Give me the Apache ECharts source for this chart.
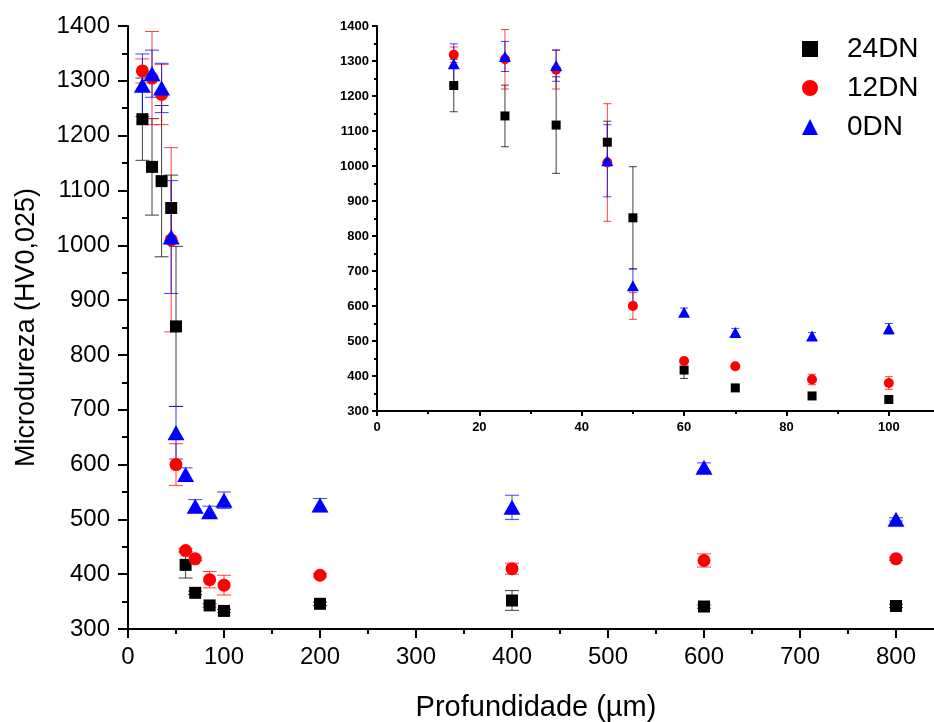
<!DOCTYPE html>
<html>
<head>
<meta charset="utf-8">
<script src="https://cdn.jsdelivr.net/npm/echarts@6/dist/echarts.min.js"></script>
<style>
  html, body { margin: 0; padding: 0; background: #fff; }
  #chart { width: 934px; height: 722px; }
</style>
</head>
<body>
<div id="chart"></div>
<script>
// profundidade (um) and microdureza per sample, with error bar half-widths
var depth = [15, 25, 35, 45, 50, 60, 70, 85, 100, 200, 400, 600, 800];
var hv24 = [1230, 1143, 1117, 1068, 852, 417, 366, 343, 333, 346, 352, 341, 342];
var err24 = [75, 88, 138, 60, 146, 24, 3, 3, 3, 3, 18, 3, 3];
var hv12 = [1318, 1305, 1275, 1010, 600, 443, 428, 390, 380, 398, 410, 425, 428];
var err12 = [22, 85, 55, 168, 38, 4, 3, 15, 18, 3, 10, 12, 3];
var hv0 = [1292, 1313, 1287, 1015, 658, 582, 524, 514, 535, 526, 522, 595, 500];
var err0 = [57, 43, 45, 103, 48, 12, 12, 10, 15, 12, 22, 8, 3];

var yTicks = [300, 1400, 100];
var mainXTicks = [0, 850, 100];
var insetXTicks = [0, 110, 20];

var FONT = '"Liberation Sans", Arial, sans-serif';

function pts(vals, maxX) {
  var out = [];
  for (var i = 0; i < depth.length; i++) {
    if (depth[i] <= maxX) out.push([depth[i], vals[i]]);
  }
  return out;
}
function bars(vals, errs, maxX) {
  var out = [];
  for (var i = 0; i < depth.length; i++) {
    if (depth[i] <= maxX) out.push([depth[i], vals[i] - errs[i], vals[i] + errs[i]]);
  }
  return out;
}

function errRender(cap, color) {
  return function (params, api) {
    var x = api.value(0);
    var lo = api.coord([x, api.value(1)]);
    var hi = api.coord([x, api.value(2)]);
    var st = { stroke: color, lineWidth: 1, opacity: 0.75 };
    return {
      type: 'group',
      children: [
        { type: 'line', shape: { x1: lo[0], y1: lo[1], x2: hi[0], y2: hi[1] }, style: st },
        { type: 'line', shape: { x1: hi[0] - cap, y1: hi[1], x2: hi[0] + cap, y2: hi[1] }, style: st },
        { type: 'line', shape: { x1: lo[0] - cap, y1: lo[1], x2: lo[0] + cap, y2: lo[1] }, style: st }
      ]
    };
  };
}

var groups = [
  { name: '24DN', vals: hv24, errs: err24, color: '#000000', symbol: 'rect', size: 12, small: 9 },
  { name: '12DN', vals: hv12, errs: err12, color: '#ff0000', symbol: 'circle', size: 13, small: 10 },
  { name: '0DN', vals: hv0, errs: err0, color: '#0000ff', symbol: 'triangle', size: [17, 15], small: [12, 11] }
];

var series = [];
groups.forEach(function (g) {
  series.push({
    type: 'custom', xAxisIndex: 0, yAxisIndex: 0, silent: true, z: 1,
    renderItem: errRender(7, g.color),
    encode: { x: 0, y: [1, 2] },
    data: bars(g.vals, g.errs, 1000)
  });
  series.push({
    type: 'custom', xAxisIndex: 1, yAxisIndex: 1, silent: true, z: 1,
    renderItem: errRender(4, g.color),
    encode: { x: 0, y: [1, 2] },
    data: bars(g.vals, g.errs, 100)
  });
});
groups.forEach(function (g) {
  series.push({
    name: g.name, type: 'scatter', xAxisIndex: 0, yAxisIndex: 0, z: 3,
    symbol: g.symbol, symbolSize: g.size,
    itemStyle: { color: g.color, opacity: 1 },
    data: pts(g.vals, 1000)
  });
  series.push({
    name: g.name, type: 'scatter', xAxisIndex: 1, yAxisIndex: 1, z: 3,
    symbol: g.symbol, symbolSize: g.small,
    itemStyle: { color: g.color, opacity: 1 },
    data: pts(g.vals, 100)
  });
});

var axisLine = { show: true, onZero: false, lineStyle: { color: '#000', width: 2 } };
var plain = function (v) { return String(v); };

var option = {
  backgroundColor: '#fff',
  animation: false,
  legend: {
    orient: 'vertical',
    left: 797, top: 30,
    itemWidth: 16, itemHeight: 16, itemGap: 11,
    textStyle: { fontFamily: FONT, fontSize: 28, color: '#000', padding: [0, 0, 0, 24] },
    data: [
      { name: '24DN', icon: 'rect' },
      { name: '12DN', icon: 'circle' },
      { name: '0DN', icon: 'triangle' }
    ]
  },
  grid: [
    { left: 128, top: 26, right: -10, height: 603, outerBoundsMode: 'none', containLabel: false },
    { left: 377, top: 26, right: -6, height: 385, outerBoundsMode: 'none', containLabel: false }
  ],
  xAxis: [
    {
      type: 'value', gridIndex: 0,
      min: mainXTicks[0], max: mainXTicks[1], interval: mainXTicks[2],
      name: 'Profundidade (µm)', nameLocation: 'middle', nameGap: 64,
      nameTextStyle: { fontFamily: FONT, fontSize: 29, color: '#000' },
      axisLine: axisLine,
      axisTick: { show: true, inside: false, length: 9, lineStyle: { color: '#000', width: 2 } },
      minorTick: { show: true, splitNumber: 2, length: 5, lineStyle: { color: '#000', width: 2 } },
      axisLabel: { fontFamily: FONT, fontSize: 24, color: '#000', margin: 16,
        formatter: function (v) { return v <= 800 ? String(v) : ''; } },
      splitLine: { show: false }
    },
    {
      type: 'value', gridIndex: 1,
      min: insetXTicks[0], max: insetXTicks[1], interval: insetXTicks[2],
      axisLine: axisLine,
      axisTick: { show: true, length: 5, lineStyle: { color: '#000', width: 2 } },
      minorTick: { show: true, splitNumber: 2, length: 3, lineStyle: { color: '#000', width: 2 } },
      axisLabel: { fontFamily: FONT, fontSize: 13, fontWeight: 'bold', color: '#000', margin: 10,
        formatter: function (v) { return v <= 100 ? String(v) : ''; } },
      splitLine: { show: false }
    }
  ],
  yAxis: [
    {
      type: 'value', gridIndex: 0,
      min: yTicks[0], max: yTicks[1], interval: yTicks[2],
      name: 'Microdureza (HV0,025)', nameLocation: 'middle', nameGap: 88,
      nameTextStyle: { fontFamily: FONT, fontSize: 27, color: '#000' },
      axisLine: axisLine,
      axisTick: { show: true, length: 10, lineStyle: { color: '#000', width: 2 } },
      minorTick: { show: true, splitNumber: 2, length: 6, lineStyle: { color: '#000', width: 2 } },
      axisLabel: { fontFamily: FONT, fontSize: 24, color: '#000', margin: 18, formatter: plain },
      splitLine: { show: false }
    },
    {
      type: 'value', gridIndex: 1,
      min: yTicks[0], max: yTicks[1], interval: yTicks[2],
      axisLine: axisLine,
      axisTick: { show: true, length: 5, lineStyle: { color: '#000', width: 2 } },
      minorTick: { show: true, splitNumber: 2, length: 3, lineStyle: { color: '#000', width: 2 } },
      axisLabel: { fontFamily: FONT, fontSize: 13, fontWeight: 'bold', color: '#000', margin: 8, formatter: plain },
      splitLine: { show: false }
    }
  ],
  series: series
};

var chart = echarts.init(document.getElementById('chart'));
chart.setOption(option);
</script>
</body>
</html>
